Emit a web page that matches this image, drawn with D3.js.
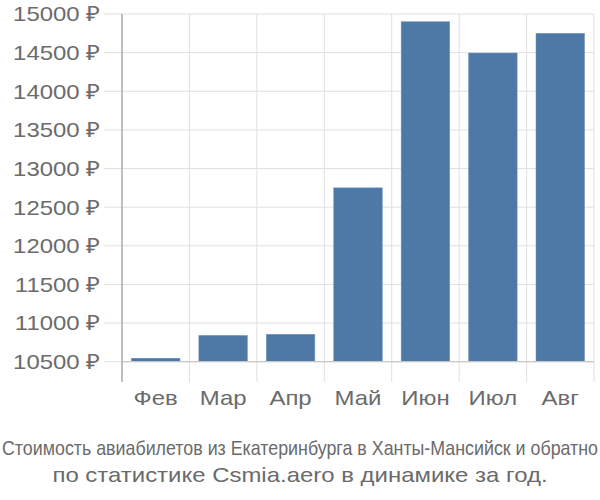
<!DOCTYPE html>
<html><head><meta charset="utf-8">
<script src="https://cdn.jsdelivr.net/npm/d3@7"></script>
<style>body{margin:0;background:#fff}svg{display:block;font-family:"Liberation Sans",Arial,sans-serif}</style>
</head><body><svg id="c" width="600" height="500"></svg>
<script>
const categories = ["Фев","Мар","Апр","Май","Июн","Июл","Авг"];
const values = [10545, 10840, 10855, 12750, 14900, 14495, 14750];
const yTicks = [10500,11000,11500,12000,12500,13000,13500,14000,14500,15000];
const title1 = "Стоимость авиабилетов из Екатеринбурга в Ханты-Мансийск и обратно";
const title2 = "по статистике Csmia.aero в динамике за год.";

const svg = d3.select("#c");
const pLeft = 122, pRight = 594, pTop = 14, pBase = 361.7, pBottom = 382;
const x = d3.scaleBand().domain(categories).range([pLeft, pRight]).padding(0);
const y = d3.scaleLinear().domain([10500, 15000]).range([pBase, pTop]);
const STRETCH = 1.14;
function widen(sel) {
  sel.each(function() {
    const w = this.getComputedTextLength();
    d3.select(this).attr("textLength", w * STRETCH).attr("lengthAdjust", "spacingAndGlyphs");
  });
}

// horizontal grid
svg.append("g").selectAll("line").data(yTicks).join("line")
  .attr("x1", 104).attr("x2", pRight).attr("y1", d => y(d)).attr("y2", d => y(d))
  .attr("stroke", "#e0e0e0").attr("stroke-width", 1);
// vertical grid
svg.append("g").selectAll("line").data(categories).join("line")
  .attr("x1", d => x(d) + x.step()).attr("x2", d => x(d) + x.step())
  .attr("y1", pTop).attr("y2", pBottom)
  .attr("stroke", "#e0e0e0").attr("stroke-width", 1);

// bars
const inset = x.step()*0.14;
svg.append("g").selectAll("rect").data(values).join("rect")
  .attr("x", (d,i) => x(categories[i]) + inset)
  .attr("width", x.step() - 2*inset)
  .attr("y", d => y(d))
  .attr("height", d => pBase - y(d))
  .attr("fill", "#4e78a6")
  .attr("stroke", "#6f93bd").attr("stroke-width", 0.5);

// baseline & y axis line
svg.append("line").attr("x1", pLeft).attr("x2", pRight).attr("y1", pBase).attr("y2", pBase)
  .attr("stroke", "#c8c8c8").attr("stroke-width", 1.2);
svg.append("line").attr("x1", pLeft).attr("x2", pLeft).attr("y1", pTop).attr("y2", pBottom)
  .attr("stroke", "#aaaaaa").attr("stroke-width", 1.5);

// y labels
svg.append("g").selectAll("text").data(yTicks).join("text")
  .attr("x", 100).attr("y", d => y(d)).attr("dy", "0.35em")
  .attr("text-anchor", "end").attr("fill", "#6b6b6b").attr("font-size", 21)
  .text(d => d + " ₽").call(widen);

// x labels
svg.append("g").selectAll("text").data(categories).join("text")
  .attr("x", d => x(d) + x.bandwidth()/2).attr("y", 405)
  .attr("text-anchor", "middle").attr("fill", "#6b6b6b").attr("font-size", 21)
  .text(d => d).call(widen);

// titles
svg.append("text").attr("x", 300).attr("y", 455).attr("text-anchor", "middle")
  .attr("fill", "#6b6b6b").attr("font-size", 21)
  .attr("textLength", 596).attr("lengthAdjust", "spacingAndGlyphs").text(title1);
svg.append("text").attr("x", 300).attr("y", 482).attr("text-anchor", "middle")
  .attr("fill", "#6b6b6b").attr("font-size", 21).text(title2).call(widen);
</script></body></html>
